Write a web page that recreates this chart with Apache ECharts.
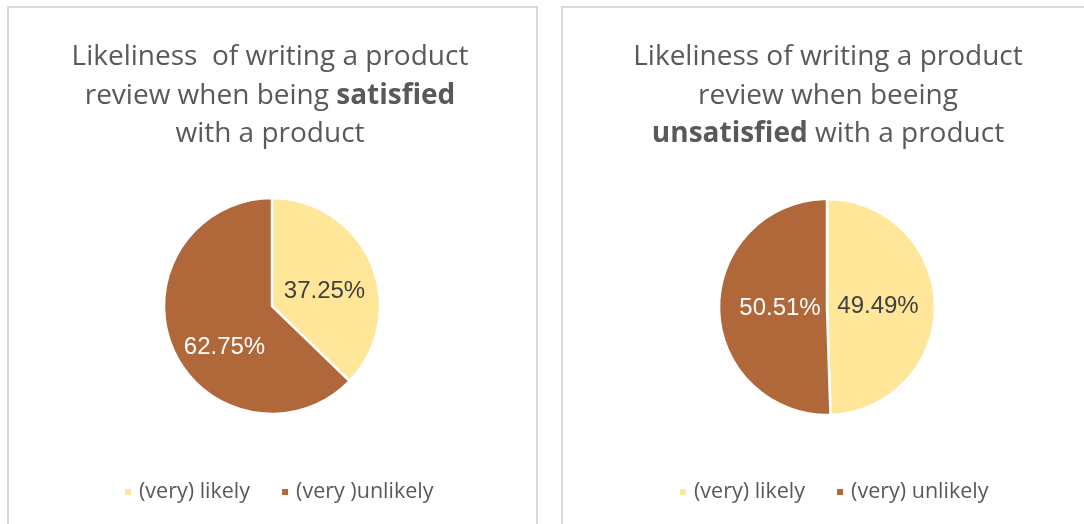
<!DOCTYPE html>
<html>
<head>
<meta charset="utf-8">
<script src="https://cdn.jsdelivr.net/npm/echarts@6/dist/echarts.min.js"></script>
<style>
  html, body { margin: 0; padding: 0; background: #fff; }
  #chart { width: 1084px; height: 524px; }
</style>
</head>
<body>
<div id="chart"></div>
<script>
// Survey answers: share of respondents per answer group
const satisfiedNames = ['(very) likely', '(very )unlikely'];
const satisfiedValues = [37.25, 62.75];

const unsatisfiedNames = ['(very) likely', '(very) unlikely'];
const unsatisfiedValues = [49.49, 50.51];

const sliceColors = ['#FFE699', '#B0673A'];
const labelColors = ['#404040', '#ffffff'];

const titleSatisfied = 'Likeliness  of writing a product\nreview when being {b|satisfied}\nwith a product';
const titleUnsatisfied = 'Likeliness of writing a product\nreview when beeing\n{b|unsatisfied} with a product';

const TITLE_FONT = '"Open Sans", Lato, sans-serif';
const LABEL_FONT = '"Liberation Sans", Arial, sans-serif';

function pieData(names, values, offsets) {
  return names.map((n, i) => ({
    name: n,
    value: values[i],
    itemStyle: { color: sliceColors[i] },
    label: { color: labelColors[i], offset: offsets[i] }
  }));
}

function titleBlock(text, cx) {
  return {
    text: text,
    left: cx,
    top: 38,
    padding: 0,
    textAlign: 'center',
    textStyle: {
      fontFamily: TITLE_FONT,
      fontSize: 28,
      fontWeight: 'normal',
      color: '#595959',
      lineHeight: 38.5,
      rich: {
        b: { fontFamily: TITLE_FONT, fontSize: 28, fontWeight: 'bold', color: '#595959', lineHeight: 38.5 }
      }
    }
  };
}

function legendBlock(names, cx) {
  return {
    data: names,
    left: cx,
    top: 476,
    orient: 'horizontal',
    icon: 'rect',
    itemWidth: 8,
    itemHeight: 8,
    itemGap: 30,
    selectedMode: false,
    textStyle: { fontFamily: TITLE_FONT, fontSize: 21.5, color: '#595959', padding: [0, 0, 0, 2] }
  };
}

function pieSeries(names, values, cx, cy, offsets) {
  return {
    type: 'pie',
    center: [cx, cy],
    radius: 108,
    startAngle: 90,
    clockwise: true,
    silent: true,
    label: {
      show: true,
      position: 'inside',
      fontFamily: LABEL_FONT,
      fontSize: 24,
      formatter: p => p.value.toFixed(2) + '%'
    },
    labelLine: { show: false },
    itemStyle: { borderColor: '#ffffff', borderWidth: 2.5 },
    data: pieData(names, values, offsets)
  };
}

const chart = echarts.init(document.getElementById('chart'), null, { renderer: 'canvas' });
chart.setOption({
  animation: false,
  backgroundColor: '#ffffff',
  graphic: [
    { type: 'rect', shape: { x: 8, y: 7, width: 529, height: 540 }, style: { fill: 'none', stroke: '#d9d9d9', lineWidth: 2 }, z: -1 },
    { type: 'rect', shape: { x: 562, y: 7, width: 540, height: 540 }, style: { fill: 'none', stroke: '#d9d9d9', lineWidth: 2 }, z: -1 }
  ],
  title: [titleBlock(titleSatisfied, 270), titleBlock(titleUnsatisfied, 828)],
  legend: [legendBlock(satisfiedNames, 118), legendBlock(unsatisfiedNames, 673)],
  series: [
    pieSeries(satisfiedNames, satisfiedValues, 272, 306, [[0, 8], [5, 19]]),
    pieSeries(unsatisfiedNames, unsatisfiedValues, 827, 307, [[-6, 0], [10, 0]])
  ]
});
</script>
</body>
</html>
